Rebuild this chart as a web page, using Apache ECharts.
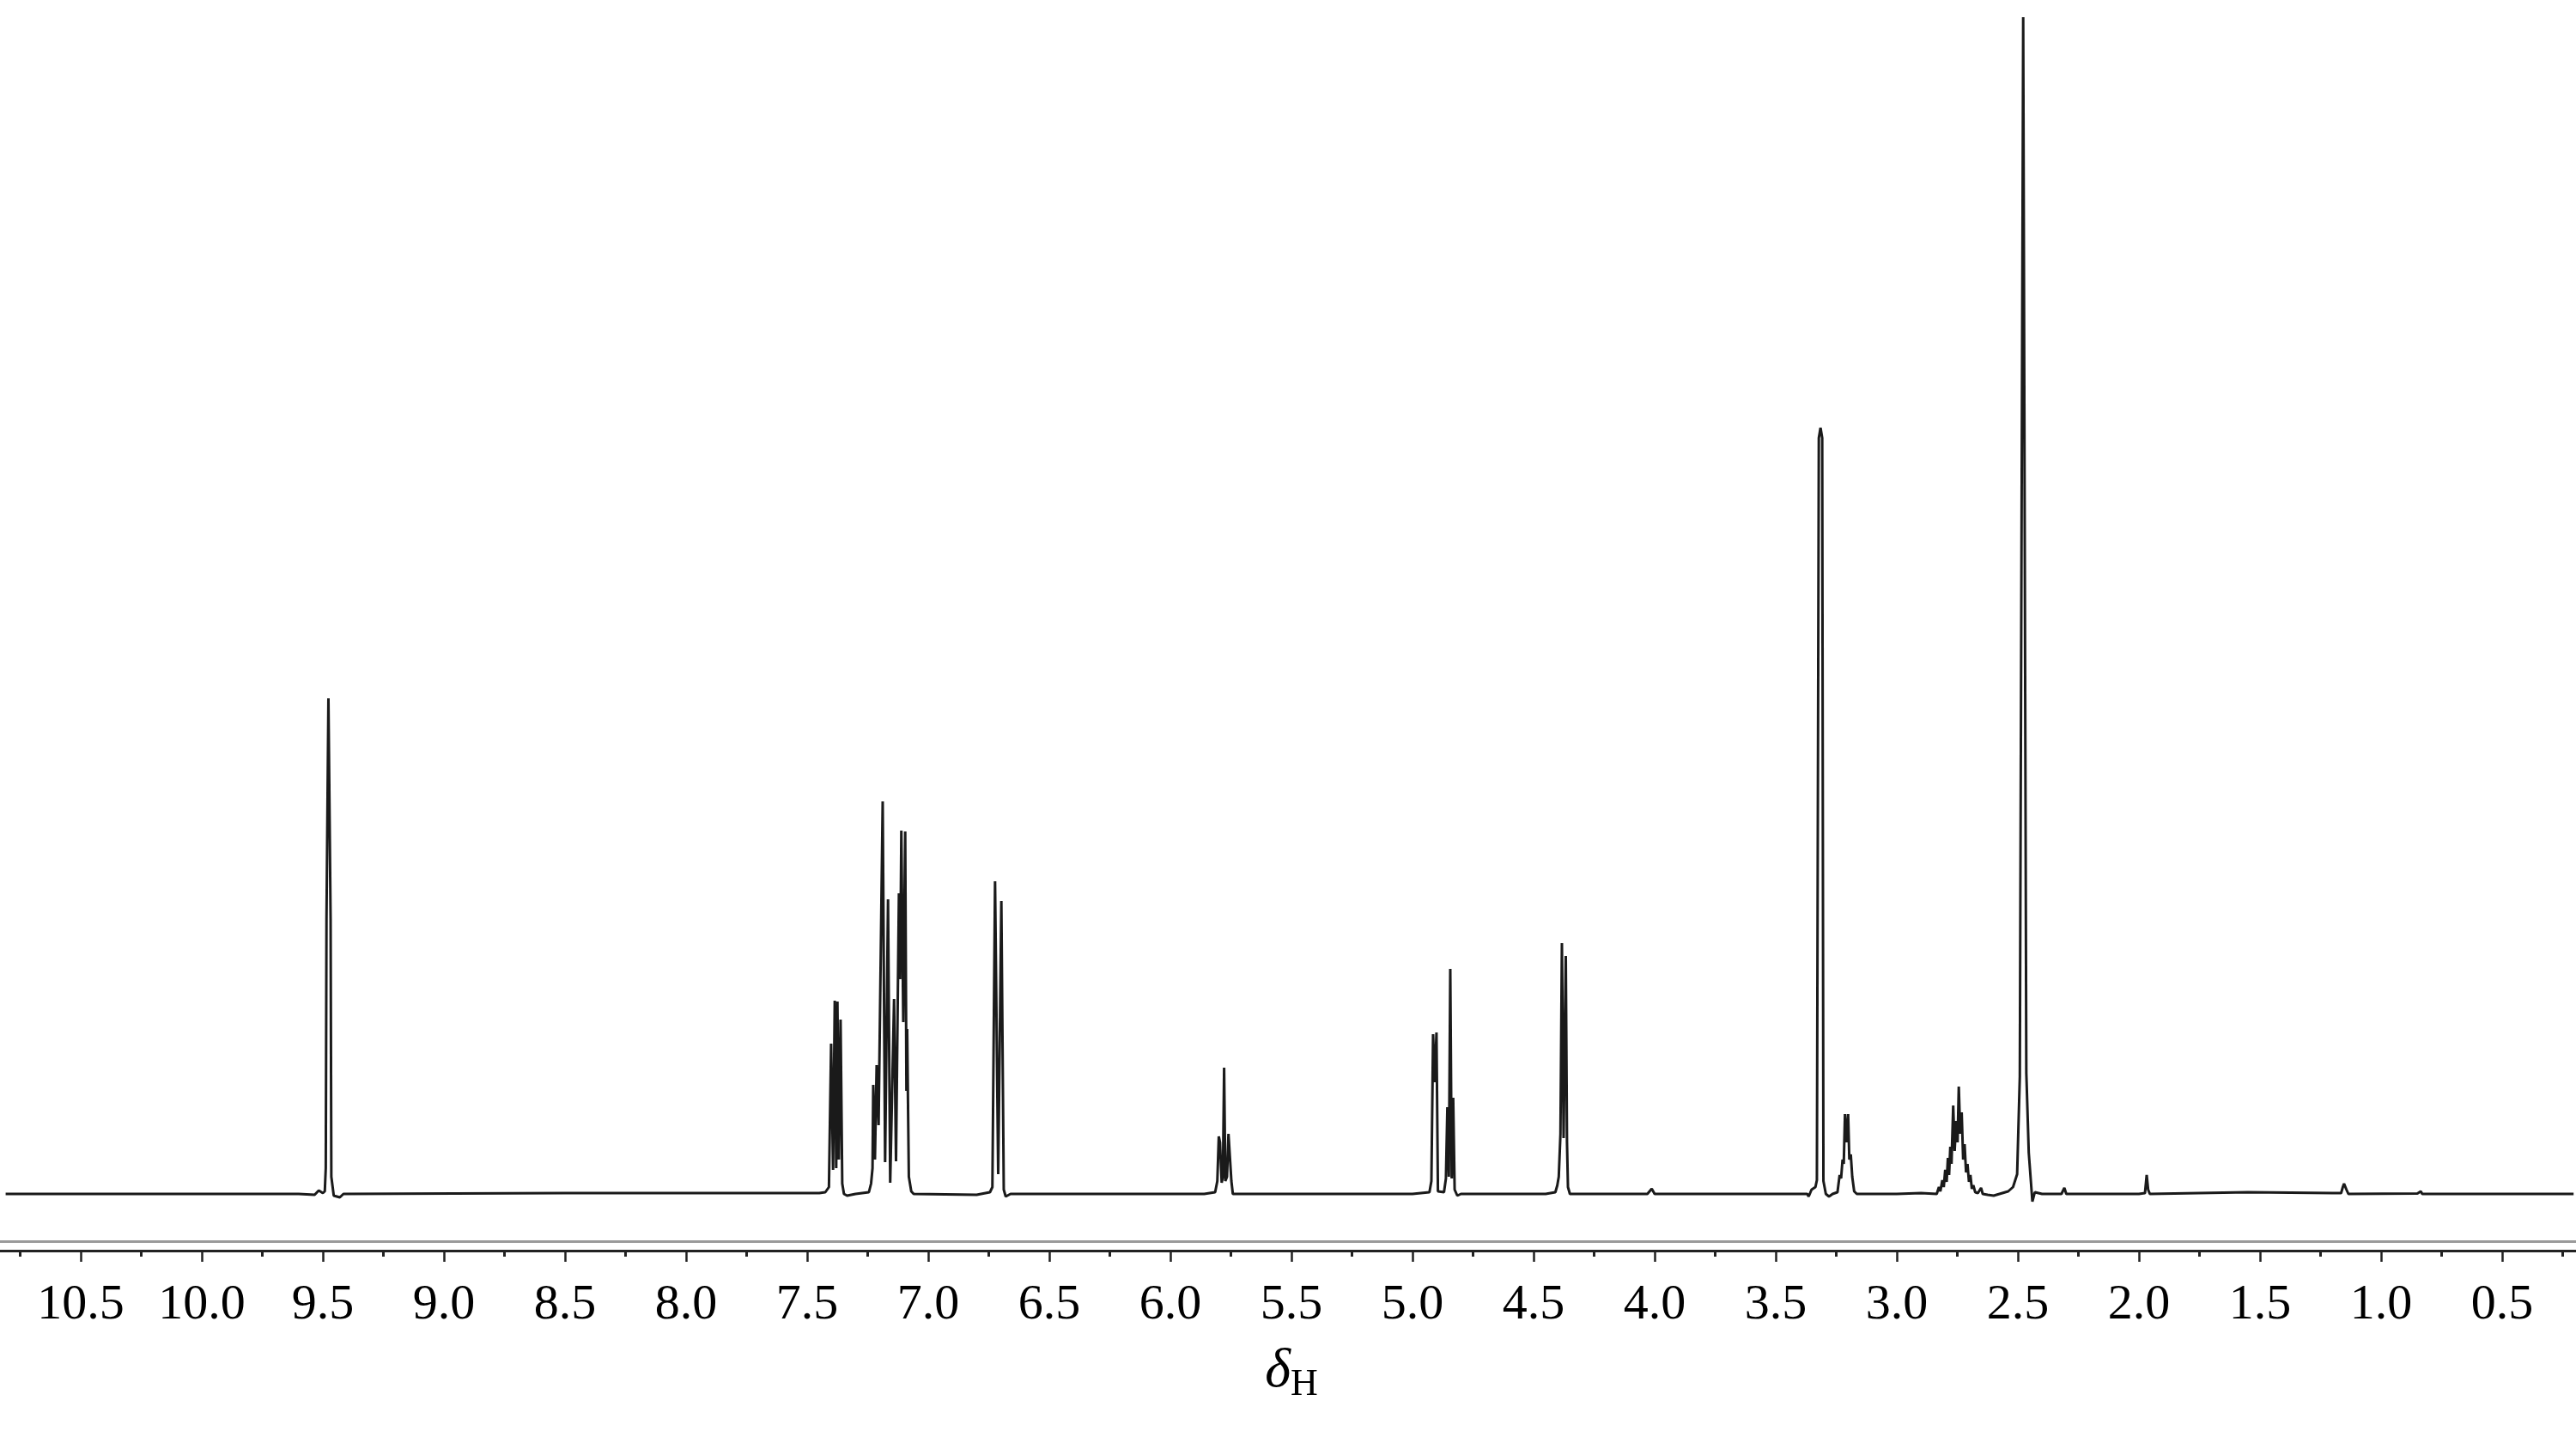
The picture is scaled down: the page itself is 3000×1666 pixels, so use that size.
<!DOCTYPE html>
<html>
<head>
<meta charset="utf-8">
<script src="https://cdn.jsdelivr.net/npm/echarts@6/dist/echarts.min.js"></script>
<style>
  html, body { margin: 0; padding: 0; background: #ffffff; overflow: hidden; width: 3000px; height: 1666px; position: relative; }
  #chart { position: absolute; left: -47px; top: 0; width: 3102px; height: 1666px; }
</style>
</head>
<body>
<div id="chart"></div>
<script>
// 1H NMR spectrum: [chemical shift (ppm), intensity]
const baselineLeft = [[10.81, 0], [9.60, 0]];
const peakNH = [[9.534, -1], [9.517, 4], [9.500, 1], [9.492, 3], [9.488, 30], [9.485, 320], [9.477, 577], [9.468, 320], [9.465, 20], [9.455, -2], [9.430, -4], [9.415, 0], [8.50, 1], [7.45, 1]];
const aromA = [[7.425, 2], [7.410, 8], [7.401, 175], [7.393, 28], [7.386, 225], [7.380, 30], [7.375, 224], [7.369, 40], [7.362, 203], [7.355, 12], [7.348, 0], [7.335, -2], [7.300, 0]];
const aromB = [[7.245, 2], [7.236, 12], [7.230, 30], [7.227, 127], [7.220, 40], [7.213, 150], [7.205, 80], [7.188, 457], [7.178, 37], [7.166, 343], [7.157, 13], [7.141, 227], [7.133, 38], [7.121, 350], [7.116, 250], [7.111, 423], [7.103, 200], [7.095, 422], [7.090, 120], [7.087, 192], [7.080, 20], [7.070, 3], [7.060, 0]];
const aromC = [[6.800, -1], [6.745, 2], [6.735, 8], [6.724, 364], [6.711, 23], [6.698, 341], [6.688, 5], [6.680, -3], [6.660, 0]];
const vinyl = [[5.860, 0], [5.815, 2], [5.806, 15], [5.800, 67], [5.795, 60], [5.788, 13], [5.783, 20], [5.778, 147], [5.773, 15], [5.766, 20], [5.760, 70], [5.754, 70], [5.748, 15], [5.742, 0]];
const olefin = [[5.000, 0], [4.930, 2], [4.922, 15], [4.915, 186], [4.908, 130], [4.901, 188], [4.895, 3], [4.888, 2], [4.870, 2], [4.862, 18], [4.856, 101], [4.850, 20], [4.844, 262], [4.838, 18], [4.832, 112], [4.826, 5], [4.815, -2], [4.800, 0]];
const oxyCH2 = [[4.450, 0], [4.410, 2], [4.402, 10], [4.396, 20], [4.389, 70], [4.383, 292], [4.376, 65], [4.367, 277], [4.362, 60], [4.358, 8], [4.350, 0], [4.030, 0], [4.012, 6], [4.000, 0]];
const water = [[3.370, 0], [3.364, -3], [3.352, 5], [3.336, 8], [3.330, 16], [3.322, 880], [3.315, 892], [3.308, 880], [3.303, 15], [3.293, 0], [3.280, -3], [3.265, 0]];
const multH1 = [[3.245, 2], [3.236, 22], [3.230, 18], [3.224, 40], [3.219, 35], [3.214, 93], [3.207, 60], [3.201, 93], [3.196, 40], [3.190, 46], [3.184, 20], [3.176, 3], [3.165, 0], [3.000, 0], [2.900, 1]];
const multH2 = [[2.835, 0], [2.826, 8], [2.820, 3], [2.812, 16], [2.806, 8], [2.800, 28], [2.794, 14], [2.789, 42], [2.784, 22], [2.779, 55], [2.774, 35], [2.767, 103], [2.761, 50], [2.755, 85], [2.749, 60], [2.744, 125], [2.738, 70], [2.732, 95], [2.726, 40], [2.720, 58], [2.714, 25], [2.708, 35], [2.702, 14], [2.696, 22], [2.690, 6], [2.684, 10], [2.676, 2], [2.665, 1], [2.652, 7], [2.645, 0], [2.625, -1]];
const solvent = [[2.600, -2], [2.540, 3], [2.520, 8], [2.503, 23], [2.492, 136], [2.478, 1370], [2.465, 140], [2.455, 48], [2.440, -9], [2.430, 2], [2.400, 0], [2.320, 0], [2.308, 7], [2.300, 0]];
const aliphatic = [[2.000, 0], [1.975, 1], [1.968, 22], [1.962, 5], [1.955, 0], [1.550, 2], [1.200, 1], [1.165, 1], [1.158, 8], [1.153, 12], [1.148, 10], [1.143, 5], [1.135, 0], [0.850, 0.5], [0.836, 3], [0.830, 0], [0.205, 0]];

const spectrum = [].concat(baselineLeft, peakNH, aromA, aromB, aromC, vinyl, olefin, oxyCH2, water, multH1, multH2, solvent, aliphatic);

const chart = echarts.init(document.getElementById('chart'), null, { renderer: 'canvas' });
const serif = '"Liberation Serif", "Times New Roman", serif';
chart.setOption({
  backgroundColor: '#ffffff',
  animation: false,
  grid: { left: 0, right: 0, top: 15, bottom: 256, containLabel: false },
  xAxis: [
    {
      type: 'value', inverse: true, min: 0, max: 11, interval: 0.5,
      position: 'bottom', offset: 46,
      axisLine: { show: true, onZero: false, lineStyle: { color: '#222', width: 3 } },
      axisTick: { show: true, length: 13, lineStyle: { color: '#222', width: 2.5 } },
      minorTick: { show: true, splitNumber: 2, length: 7, lineStyle: { color: '#222', width: 3 } },
      splitLine: { show: false },
      axisLabel: {
        show: true, showMinLabel: false, showMaxLabel: false, margin: 35,
        fontFamily: serif, fontSize: 58, color: '#000',
        formatter: v => v.toFixed(1)
      },
      name: '{d|δ}{h|H}', nameLocation: 'middle', nameGap: 104,
      nameTextStyle: {
        rich: {
          d: { fontFamily: serif, fontStyle: 'italic', fontSize: 64, color: '#000' },
          h: { fontFamily: serif, fontSize: 44, color: '#000', padding: [30, 0, 0, 0] }
        }
      }
    },
    {
      type: 'value', inverse: true, min: 0, max: 11, interval: 0.5,
      position: 'bottom', offset: 35,
      axisLine: { show: true, onZero: false, lineStyle: { color: '#9a9a9a', width: 3 } },
      axisTick: { show: false }, axisLabel: { show: false }, splitLine: { show: false }
    }
  ],
  yAxis: { type: 'value', min: -20, max: 1375, show: false, splitLine: { show: false } },
  series: [{
    type: 'line', xAxisIndex: 0, data: spectrum, showSymbol: false, symbol: 'none',
    lineStyle: { color: '#1a1a1a', width: 3, join: 'bevel' }, clip: true
  }]
});
</script>
</body>
</html>
